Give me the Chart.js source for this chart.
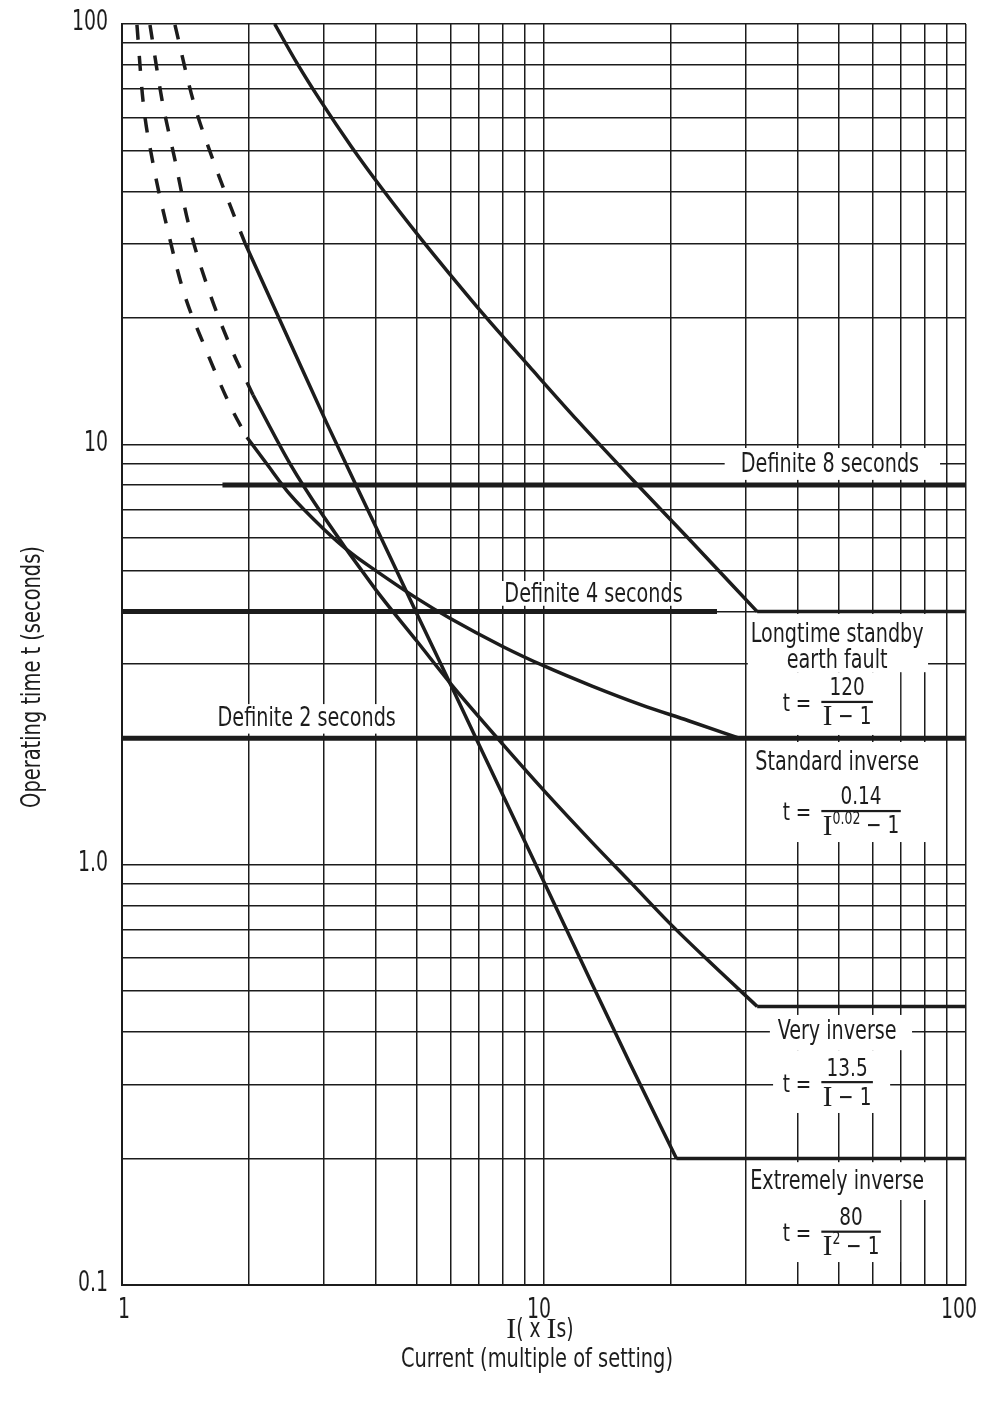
<!DOCTYPE html>
<html>
<head>
<meta charset="utf-8">
<script src="https://cdn.jsdelivr.net/npm/chart.js@4.4.1/dist/chart.umd.min.js"></script>
<style>
  html, body { margin: 0; padding: 0; background: #fff; }
</style>
</head>
<body>
<canvas id="chart" width="981" height="1408"></canvas>
<script>
// log grid + labelled ticks
const xGrid = [1, 2, 3, 4, 5, 6, 7, 8, 9, 10, 20, 30, 40, 50, 60, 70, 80, 90, 100];
const yGrid = [0.1, 0.2, 0.3, 0.4, 0.5, 0.6, 0.7, 0.8, 0.9, 1, 2, 3, 4, 5, 6, 7, 8, 9, 10,
               20, 30, 40, 50, 60, 70, 80, 90, 100];
const xTickLabels = { 1: '1', 10: '10', 100: '100' };
const yTickLabels = { 0.1: '0.1', 1: '1.0', 10: '10', 100: '100' };

// curves (I = multiple of setting, t = seconds)
const longtimeI = [2.3, 2.6, 2.95, 3.5, 4.13, 5.14, 6, 7.18, 9.24, 12, 16.2, 22, 32];
const longtimeT = [100, 80.6, 65.8, 51, 40.6, 30.6, 25.3, 20.4, 15.3, 11.4, 8.25, 5.97, 4.0];
const longtimeFlatI = [32, 100];
const longtimeFlatT = [4.0, 4.0];

const standardDashI = [1.085, 1.121, 1.184, 1.278, 1.395, 1.573, 1.823, 1.977];
const standardDashT = [99.5, 66, 46.7, 32.9, 23.3, 17, 12.1, 10.4];
const standardI = [1.977, 2.2, 2.5, 3, 3.5, 4, 5, 6, 8, 10, 13, 17, 22, 29];
const standardT = [10.4, 9.0, 7.6, 6.3, 5.5, 5.0, 4.3, 3.85, 3.3, 2.97, 2.66, 2.4, 2.2, 2.0];
const standardFlatI = [29, 100];
const standardFlatT = [2.0, 2.0];

const veryDashI = [1.165, 1.244, 1.335, 1.434, 1.59, 1.802, 2.044];
const veryDashT = [99.5, 66, 47.5, 33.8, 23.9, 17.2, 13.1];
const veryI = [2.044, 2.5, 3, 4, 5, 6, 8, 10, 13, 16, 20, 25, 32];
const veryT = [13.1, 9.0, 6.75, 4.5, 3.4, 2.7, 1.93, 1.5, 1.13, 0.91, 0.72, 0.58, 0.46];
const veryFlatI = [32, 100];
const veryFlatT = [0.46, 0.46];

const extremeDashI = [1.335, 1.473, 1.643, 1.852, 1.957];
const extremeDashT = [99.5, 66, 47.5, 34.6, 30.1];
const extremeI = [1.957, 2.5, 3.06, 4, 5, 6, 8, 10, 13, 16, 20.6];
const extremeT = [30.1, 17.5, 11.2, 6.35, 3.95, 2.69, 1.46, 0.91, 0.52, 0.336, 0.2];
const extremeFlatI = [20.6, 100];
const extremeFlatT = [0.2, 0.2];

const definite8I = [1.73, 100];
const definite8T = [8, 8];
const definite4I = [1, 25.7];
const definite4T = [4, 4];
const definite2I = [1, 100];
const definite2T = [2, 2];

const ink = '#1c1c1c';
const sans = '"DejaVu Sans Condensed", "DejaVu Sans", sans-serif';
const serif = '"Liberation Serif", "DejaVu Serif", serif';

function pts(xs, ys) {
  return xs.map((x, i) => ({ x: x, y: ys[i] }));
}

function curve(xs, ys, dashed) {
  return {
    data: pts(xs, ys),
    showLine: true,
    borderColor: ink,
    borderWidth: 3.5,
    borderDash: dashed ? [15, 16] : [],
    pointRadius: 0,
    cubicInterpolationMode: 'monotone'
  };
}

function flat(xs, ys, w) {
  return { data: pts(xs, ys), showLine: true, borderColor: ink, borderWidth: w, pointRadius: 0 };
}

// text pieces: [string, kind] with kind '', 'serif' or 'sup'
function pieceFont(kind, size) {
  if (kind === 'serif') return { font: Math.round(size * 1.15) + 'px ' + serif, sq: 1, dy: 0 };
  if (kind === 'sup') return { font: Math.round(size * 0.68) + 'px ' + sans, sq: 0.82, dy: -size * 0.3 };
  return { font: size + 'px ' + sans, sq: 0.82, dy: 0 };
}
function partsWidth(ctx, parts, size, sq) {
  let w = 0;
  parts.forEach(p => {
    const f = pieceFont(p[1], size);
    ctx.font = f.font;
    w += ctx.measureText(p[0]).width * (p[1] === 'serif' ? 1 : (sq || f.sq));
  });
  return w;
}
function drawParts(ctx, parts, x, y, size, align, sq) {
  ctx.save();
  const total = partsWidth(ctx, parts, size, sq);
  let cx = align === 'center' ? x - total / 2 : align === 'right' ? x - total : x;
  ctx.fillStyle = ink;
  ctx.textAlign = 'left';
  ctx.textBaseline = 'middle';
  parts.forEach(p => {
    const f = pieceFont(p[1], size);
    const s = p[1] === 'serif' ? 1 : (sq || f.sq);
    ctx.font = f.font;
    ctx.save();
    ctx.translate(cx, y + f.dy);
    ctx.scale(s, 1);
    ctx.fillText(p[0], 0, 0);
    ctx.restore();
    cx += ctx.measureText(p[0]).width * s;
  });
  ctx.restore();
}

// white masks behind the labels, in data units [I0, I1, t0, t1]
const masks = [
  [26.8, 86.8, 9.8, 8.23],
  [7.87, 22.2, 4.73, 4.13],
  [1.63, 4.61, 2.41, 2.05],
  [30.4, 81.3, 3.95, 2.87],
  [30.4, 69.8, 2.87, 2.035],
  [30.8, 80.4, 1.958, 1.132],
  [34.3, 74.5, 0.439, 0.362],
  [34.9, 66.1, 0.362, 0.2566],
  [30.8, 80.4, 0.196, 0.1593],
  [30.8, 69.8, 0.1593, 0.1134]
];

const captions = [
  ['Definite 8 seconds', 47.6, 8.93],
  ['Definite 4 seconds', 13.1, 4.38],
  ['Definite 2 seconds', 2.74, 2.22],
  ['Longtime standby', 49.5, 3.52],
  ['earth fault', 49.5, 3.04],
  ['Standard inverse', 49.5, 1.746],
  ['Very inverse', 49.5, 0.40],
  ['Extremely inverse', 49.5, 0.176]
];

// formulas: numerator, denominator pieces, anchor (left I, bar t)
const formulas = [
  { num: '120', den: [['I', 'serif'], [' \u2212 1', '']], at: [36.8, 2.44] },
  { num: '0.14', den: [['I', 'serif'], ['0.02', 'sup'], [' \u2212 1', '']], at: [36.8, 1.342] },
  { num: '13.5', den: [['I', 'serif'], [' \u2212 1', '']], at: [36.8, 0.304] },
  { num: '80', den: [['I', 'serif'], ['2', 'sup'], [' \u2212 1', '']], at: [36.8, 0.134] }
];

const labelPlugin = {
  id: 'labels',
  beforeDatasetsDraw(chart) {
    const ctx = chart.ctx;
    const xs = chart.scales.x, ys = chart.scales.y;
    ctx.save();
    ctx.fillStyle = '#fff';
    masks.forEach(m => {
      const x0 = xs.getPixelForValue(m[0]), x1 = xs.getPixelForValue(m[1]);
      const y0 = ys.getPixelForValue(m[2]), y1 = ys.getPixelForValue(m[3]);
      ctx.fillRect(x0, y0, x1 - x0, y1 - y0);
    });
    ctx.restore();

    captions.forEach(c => {
      drawParts(ctx, [[c[0], '']], xs.getPixelForValue(c[1]), ys.getPixelForValue(c[2]), 26, 'center');
    });

    formulas.forEach(f => {
      const x0 = xs.getPixelForValue(f.at[0]);
      const yb = ys.getPixelForValue(f.at[1]);
      drawParts(ctx, [['t =', '']], x0, yb + 3, 25, 'left');
      const bx = x0 + partsWidth(ctx, [['t =', '']], 25) + 10;
      const denW = partsWidth(ctx, f.den, 25);
      const w = Math.max(denW, partsWidth(ctx, [[f.num, '']], 25)) + 3;
      ctx.fillStyle = ink;
      ctx.fillRect(bx, yb - 1, w, 2.2);
      drawParts(ctx, [[f.num, '']], bx + w / 2, yb - 13, 25, 'center');
      drawParts(ctx, f.den, bx + w / 2, yb + 16, 25, 'center');
    });

    // tick labels
    Object.keys(xTickLabels).forEach(k => {
      const s = xTickLabels[k];
      const half = partsWidth(ctx, [[s, '']], 28, 0.75) / 2;
      const px = Math.min(xs.getPixelForValue(Number(k)) + (s === '1' ? 2 : -5), chart.width - half - 4);
      drawParts(ctx, [[s, '']], px, 1311, 28, 'center', 0.75);
    });
    Object.keys(yTickLabels).forEach(k => {
      drawParts(ctx, [[yTickLabels[k], '']], 108, ys.getPixelForValue(Number(k)) - 1, 28, 'right', 0.75);
    });

    // axis titles
    drawParts(ctx, [['I', 'serif'], ['( x ', ''], ['I', 'serif'], ['s)', '']], 540, 1330, 26, 'center', 0.8);
    drawParts(ctx, [['Current (multiple of setting)', '']], 537, 1360, 27, 'center', 0.8);
    ctx.save();
    ctx.translate(33, 677);
    ctx.rotate(-Math.PI / 2);
    drawParts(ctx, [['Operating time t (seconds)', '']], 0, 0, 27, 'center', 0.8);
    ctx.restore();
  }
};

new Chart(document.getElementById('chart'), {
  type: 'scatter',
  data: {
    datasets: [
      curve(longtimeI, longtimeT, false),
      flat(longtimeFlatI, longtimeFlatT, 3.5),
      curve(standardDashI, standardDashT, true),
      curve(standardI, standardT, false),
      flat(standardFlatI, standardFlatT, 3.5),
      curve(veryDashI, veryDashT, true),
      curve(veryI, veryT, false),
      flat(veryFlatI, veryFlatT, 3.5),
      curve(extremeDashI, extremeDashT, true),
      curve(extremeI, extremeT, false),
      flat(extremeFlatI, extremeFlatT, 3.5),
      flat(definite8I, definite8T, 5),
      flat(definite4I, definite4T, 5),
      flat(definite2I, definite2T, 5)
    ]
  },
  options: {
    responsive: false,
    animation: false,
    layout: { padding: { top: 24, right: 15, left: 0, bottom: 0 } },
    plugins: { legend: { display: false }, tooltip: { enabled: false } },
    scales: {
      x: {
        type: 'logarithmic',
        min: 1,
        max: 100,
        afterBuildTicks: s => { s.ticks = xGrid.map(v => ({ value: v })); },
        afterFit: s => { s.height = 123; s.paddingLeft = 0; s.paddingRight = 0; },
        ticks: { display: false, autoSkip: false, callback: v => xTickLabels[v] || '' },
        grid: { color: ink, lineWidth: 1.5, drawTicks: false },
        border: { color: ink, width: 2 }
      },
      y: {
        type: 'logarithmic',
        min: 0.1,
        max: 100,
        afterBuildTicks: s => { s.ticks = yGrid.map(v => ({ value: v })); },
        afterFit: s => { s.width = 122; s.paddingTop = 0; s.paddingBottom = 0; },
        ticks: { display: false, autoSkip: false, callback: v => yTickLabels[v] || '' },
        grid: { color: ink, lineWidth: 1.5, drawTicks: false },
        border: { color: ink, width: 2 }
      }
    }
  },
  plugins: [labelPlugin]
});
</script>
</body>
</html>
